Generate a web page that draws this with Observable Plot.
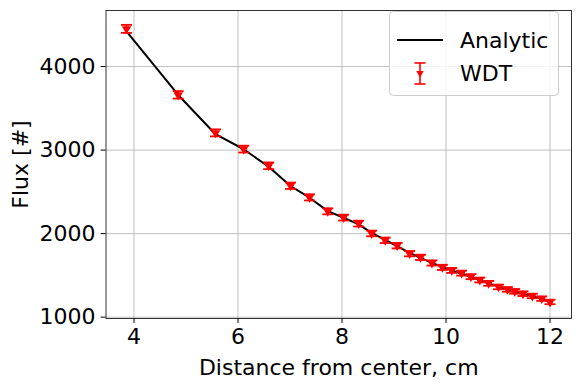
<!DOCTYPE html>
<html>
<head>
<meta charset="utf-8">
<script src="https://cdn.jsdelivr.net/npm/d3@7"></script>
<script src="https://cdn.jsdelivr.net/npm/@observablehq/plot@0.6"></script>
<style>
  html, body { margin: 0; padding: 0; background: #fff; }
  #wrap { position: relative; width: 579px; height: 389px; font-family: "DejaVu Sans", sans-serif; }
  #legend { position: absolute; left: 389px; top: 11px; }
</style>
</head>
<body>
<div id="wrap"></div>
<script>
const distance = [3.856, 4.85, 5.567, 6.11, 6.59, 7.01, 7.375, 7.727, 8.03, 8.32, 8.57, 8.83, 9.06, 9.30, 9.51, 9.73, 9.93, 10.11, 10.30, 10.48, 10.65, 10.82, 11.01, 11.18, 11.32, 11.48, 11.66, 11.84, 12.0];
const wdtFlux = [4451, 3661, 3206, 3012, 2812, 2573, 2434, 2267, 2192, 2120, 2002, 1920, 1856, 1760, 1716, 1649, 1596, 1560, 1527, 1485, 1445, 1405, 1362, 1332, 1309, 1281, 1254, 1222, 1182];
const wdtError = [48, 45, 42, 41, 40, 38, 37, 36, 35, 35, 34, 33, 33, 32, 32, 31, 31, 30, 30, 30, 29, 29, 28, 28, 28, 28, 27, 27, 27];
const analyticFlux = [4420, 3660, 3190, 3010, 2800, 2570, 2430, 2270, 2190, 2110, 2010, 1925, 1850, 1770, 1710, 1650, 1600, 1560, 1520, 1480, 1445, 1405, 1365, 1335, 1305, 1280, 1250, 1220, 1190];
const xTicks = [4, 6, 8, 10, 12];
const yTicks = [1000, 2000, 3000, 4000];

const rows = distance.map((d, i) => ({
  d, wdt: wdtFlux[i], err: wdtError[i], ana: analyticFlux[i]
}));

const capSymbol = {
  draw(ctx) { ctx.moveTo(-5.5, 0); ctx.lineTo(5.5, 0); }
};

const FS = "22px";

const chart = Plot.plot({
  width: 579,
  height: 389,
  marginLeft: 105.5,
  marginRight: 8,
  marginTop: 10,
  marginBottom: 71,
  style: { fontFamily: "DejaVu Sans, sans-serif", fontSize: FS, color: "black", background: "white" },
  x: { domain: [3.4615, 12.413] },
  y: { domain: [984, 4671] },
  marks: [
    Plot.gridX(xTicks, { stroke: "#b0b0b0", strokeOpacity: 1, strokeWidth: 0.8 }),
    Plot.gridY(yTicks, { stroke: "#b0b0b0", strokeOpacity: 1, strokeWidth: 0.8 }),
    Plot.line(rows, { x: "d", y: "ana", stroke: "black", strokeWidth: 2 }),
    Plot.ruleX(rows, { x: "d", y1: r => r.wdt - r.err, y2: r => r.wdt + r.err, stroke: "red", strokeWidth: 1.6 }),
    Plot.dot(rows, { x: "d", y: r => r.wdt - r.err, symbol: capSymbol, stroke: "red", strokeWidth: 1.8, fill: "none" }),
    Plot.dot(rows, { x: "d", y: r => r.wdt + r.err, symbol: capSymbol, stroke: "red", strokeWidth: 1.8, fill: "none" }),
    Plot.dot(rows, { x: "d", y: "wdt", symbol: "triangle", rotate: 180, r: 3.5, fill: "red", stroke: "none" }),
    Plot.axisX(xTicks, { tickSize: 4.9, tickPadding: 5, tickFormat: d => String(d), label: "Distance from center, cm", labelAnchor: "center", labelArrow: "none", labelOffset: 56, fontSize: FS }),
    Plot.axisY(yTicks, { tickSize: 4.9, tickPadding: 5.5, tickFormat: d => String(d), label: "Flux [#]", labelAnchor: "center", labelArrow: "none", labelOffset: 94, fontSize: FS }),
    Plot.frame({ stroke: "black", strokeWidth: 0.8 })
  ]
});

const wrap = document.getElementById("wrap");
wrap.appendChild(chart);

const legend = document.createElement("div");
legend.id = "legend";
legend.innerHTML = `
<svg width="172" height="86" xmlns="http://www.w3.org/2000/svg" style="font-family: 'DejaVu Sans', sans-serif;">
  <rect x="0.5" y="0.5" width="169" height="84" rx="4" ry="4" fill="white" fill-opacity="0.8" stroke="#cccccc" stroke-width="1"/>
  <line x1="8" y1="29" x2="54" y2="29" stroke="black" stroke-width="2"/>
  <text x="71" y="29" dy="0.36em" font-size="22" fill="black">Analytic</text>
  <line x1="31" y1="52" x2="31" y2="73" stroke="red" stroke-width="1.6"/>
  <line x1="25.5" y1="52" x2="36.5" y2="52" stroke="red" stroke-width="1.6"/>
  <line x1="25.5" y1="73" x2="36.5" y2="73" stroke="red" stroke-width="1.6"/>
  <path d="M27.3,60 L34.7,60 L31,66.5 Z" fill="red"/>
  <text x="71" y="62" dy="0.36em" font-size="22" fill="black">WDT</text>
</svg>`;
wrap.appendChild(legend);
</script>
</body>
</html>
